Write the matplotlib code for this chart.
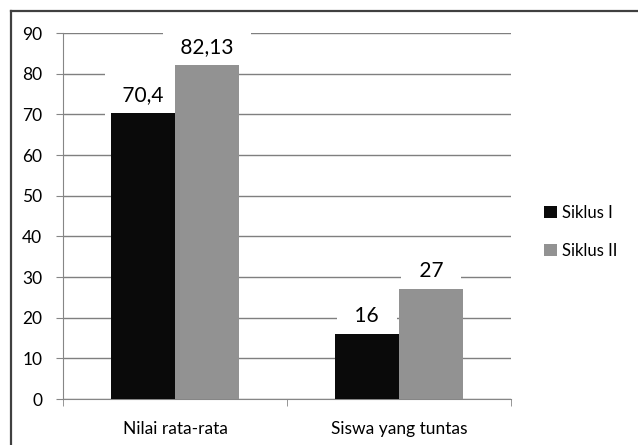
import matplotlib
matplotlib.use("Agg")
import matplotlib.pyplot as plt
import numpy as np
from matplotlib.lines import Line2D

plt.rcParams['font.family'] = ['Lato', 'DejaVu Sans']

kategori = ["Nilai rata-rata", "Siswa yang tuntas"]
siklus_1 = [70.4, 16]
siklus_2 = [82.13, 27]
label_1 = ["70,4", "16"]
label_2 = ["82,13", "27"]
nama_seri = ["Siklus I", "Siklus II"]
warna = ["#0a0a0a", "#929292"]

W, H = 638, 445
fig = plt.figure(figsize=(W / 100, H / 100), dpi=100)
ax = fig.add_axes([63 / W, 1 - 399 / H, (511 - 63) / W, (399 - 33) / H])

x = np.arange(len(kategori))
lebar = 0.286
b1 = ax.bar(x - lebar / 2, siklus_1, lebar, color=warna[0], label=nama_seri[0], zorder=3)
b2 = ax.bar(x + lebar / 2, siklus_2, lebar, color=warna[1], label=nama_seri[1], zorder=3)

# label nilai di atas batang, kotak putih menutupi garis grid (di bawah batang)
for bars, teks in ((b1, label_1), (b2, label_2)):
    for rect, t in zip(bars, teks):
        ax.annotate(" " + t + " ", (rect.get_x() + rect.get_width() / 2, rect.get_height()),
                    xytext=(0, 13), textcoords="offset points",
                    ha="center", va="center", fontsize=15, color="black", zorder=2,
                    bbox=dict(boxstyle="square,pad=0.6", fc="white", ec="none"))

ax.set_xlim(-0.5, 1.5)
ax.set_ylim(0, 90)
ax.set_yticks(np.arange(0, 91, 10))
ax.yaxis.grid(True, color="#7f7f7f", linewidth=1, zorder=0)
ax.set_axisbelow(True)

ax.set_xticks(x)
ax.set_xticklabels(kategori, fontsize=12.5)
ax.set_xticks([-0.5, 0.5, 1.5], minor=True)
ax.tick_params(axis="x", which="major", length=0, pad=16)
ax.tick_params(axis="x", which="minor", length=5, color="#868686", direction="out")
ax.tick_params(axis="y", length=5, color="#868686", direction="out", labelsize=12.5, pad=10)

for s in ("top", "right"):
    ax.spines[s].set_visible(False)
for s in ("left", "bottom"):
    ax.spines[s].set_color("#868686")

ax.legend(loc="center left", bbox_to_anchor=(529 / W, 1 - 232 / H),
          bbox_transform=fig.transFigure, frameon=False, fontsize=12,
          handlelength=0.75, handleheight=0.75, handletextpad=0.3, labelspacing=1.3)

# bingkai luar grafik
fig.add_artist(Line2D([11 / W, 11 / W], [0, 1 - 11 / H], color="#404040", linewidth=1.6))
fig.add_artist(Line2D([11 / W, 1], [1 - 11 / H, 1 - 11 / H], color="#404040", linewidth=1.6))

fig.savefig("out.png", dpi=100)
